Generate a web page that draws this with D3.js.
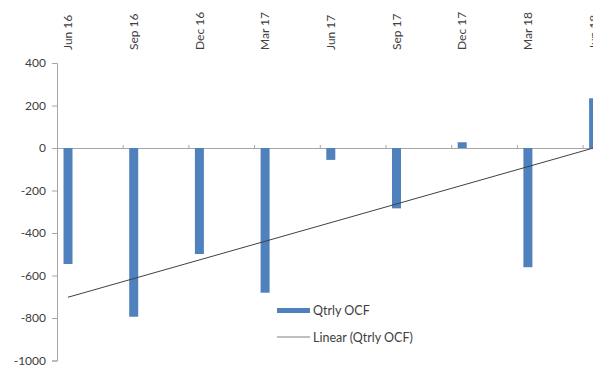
<!DOCTYPE html>
<html><head><meta charset="utf-8">
<script src="https://cdn.jsdelivr.net/npm/d3@7"></script>
<style>body{margin:0;background:#fff;}svg{display:block;}text{font-family:Lato,"Open Sans",sans-serif;fill:#404040;}</style>
</head><body>
<svg id="c" width="593" height="365"></svg>
<script>
const categories = ["Jun 16","Sep 16","Dec 16","Mar 17","Jun 17","Sep 17","Dec 17","Mar 18","Jun 18"];
const qtrlyOCF = [-546,-794,-499,-681,-56,-284,27,-561,234];
const yTicks = [400,200,0,-200,-400,-600,-800,-1000];
const seriesName = "Qtrly OCF";
const trendName = "Linear (Qtrly OCF)";

const svg = d3.select("#c");
const step = 65.7, x0 = 57;
const x = d3.scaleBand().domain(categories).range([x0, x0 + step*categories.length]).paddingInner(0).paddingOuter(0);
const y = d3.scaleLinear().domain([-1000,400]).range([360.5,63]);
const barW = 9, barOff = 6.5;
const cx = c => x(c) + barOff + barW/2;

// y axis
const ya = svg.append("g").attr("transform",`translate(${x0},0)`)
  .call(d3.axisLeft(y).tickValues(yTicks).tickSize(5).tickPadding(6).tickFormat(d => String(d)));
ya.select(".domain").attr("stroke","#a6a6a6");
ya.selectAll(".tick line").attr("stroke","#a6a6a6");
ya.selectAll(".tick text").style("font-size","12px").style("font-family","Lato,sans-serif").attr("fill","#404040");

// zero line with upward ticks
const xa = svg.append("g").attr("transform",`translate(0,${y(0)})`)
  .call(d3.axisTop(d3.scaleLinear().domain([0,categories.length]).range([x0, x0+step*categories.length]))
    .tickValues(d3.range(1,categories.length)).tickSize(3).tickFormat(""));
xa.select(".domain").attr("stroke","#a6a6a6");
xa.selectAll(".tick line").attr("stroke","#a6a6a6");

// bars
svg.append("g").selectAll("rect").data(categories).join("rect")
  .attr("x", c => x(c) + barOff).attr("width", barW)
  .attr("y", (c,i) => y(Math.max(0, qtrlyOCF[i])))
  .attr("height", (c,i) => Math.abs(y(qtrlyOCF[i]) - y(0)))
  .attr("fill","#4f81bd");

// linear trend
const n = qtrlyOCF.length, mx = d3.mean(d3.range(n)), my = d3.mean(qtrlyOCF);
const slope = d3.sum(qtrlyOCF, (v,i) => (i-mx)*(v-my)) / d3.sum(d3.range(n), i => (i-mx)*(i-mx));
const icpt = my - slope*mx;
svg.append("line")
  .attr("x1", cx(categories[0])).attr("y1", y(icpt))
  .attr("x2", cx(categories[n-1])).attr("y2", y(icpt + slope*(n-1)))
  .attr("stroke","#404040").attr("stroke-width",1);

// category labels on top
svg.append("g").selectAll("text").data(categories).join("text")
  .attr("transform", c => `translate(${cx(c)},50) rotate(-90)`)
  .attr("dy","0.35em").attr("text-anchor","start")
  .style("font-size","12px").text(c => c);

// legend
const lg = svg.append("g");
lg.append("rect").attr("x",277).attr("y",308).attr("width",33).attr("height",5).attr("fill","#4f81bd");
lg.append("text").attr("x",313).attr("y",310.5).attr("dy","0.35em").style("font-size","12.5px").text(seriesName);
lg.append("line").attr("x1",277).attr("x2",310).attr("y1",337).attr("y2",337).attr("stroke","#808080").attr("stroke-width",1.2);
lg.append("text").attr("x",313).attr("y",337.5).attr("dy","0.35em").style("font-size","12.5px").text(trendName);
</script>
</body></html>
